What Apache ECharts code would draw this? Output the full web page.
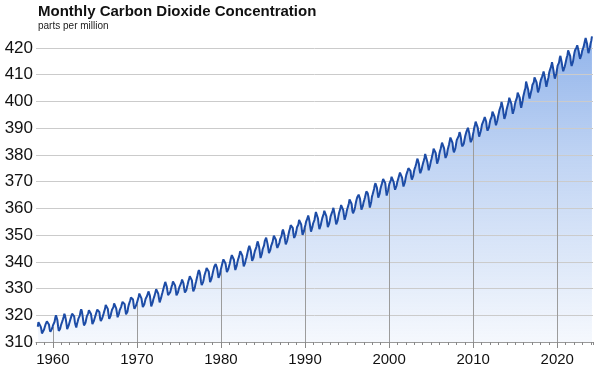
<!DOCTYPE html>
<html>
<head>
<meta charset="utf-8">
<script src="https://cdn.jsdelivr.net/npm/echarts@6/dist/echarts.min.js"></script>
<style>
  html, body { margin: 0; padding: 0; background: #fff; }
  #main { width: 600px; height: 373px; }
</style>
</head>
<body>
<div id="main"></div>
<script>
// monthly CO2 (ppm), first value is March 1958
var startYear = 1958, startMonth = 3;
var co2_1958_1969 = [
  315.70, 317.45, 317.51, 317.24, 315.86, 314.93, 313.20, 312.66, 313.33, 314.67,
  315.58, 316.49, 316.65, 317.72, 318.29, 318.15, 316.54, 314.80, 313.84, 313.33, 314.81, 315.58,
  316.43, 316.98, 317.58, 319.03, 320.04, 319.59, 318.18, 315.90, 314.17, 313.83, 315.00, 316.19,
  316.90, 317.70, 318.54, 319.48, 320.58, 319.77, 318.57, 316.79, 314.80, 315.38, 316.10, 317.01,
  317.94, 318.55, 319.68, 320.57, 321.02, 320.62, 319.61, 317.40, 316.25, 315.42, 316.69, 317.70,
  318.74, 319.07, 319.86, 321.38, 322.25, 321.48, 319.74, 317.77, 316.21, 315.99, 317.07, 318.35,
  319.57, 320.01, 320.74, 321.84, 322.26, 321.89, 320.44, 318.70, 316.70, 316.79, 317.79, 318.71,
  319.44, 320.44, 320.89, 322.14, 322.17, 321.87, 321.21, 318.87, 317.82, 317.30, 318.87, 319.42,
  320.62, 321.59, 322.39, 323.87, 324.01, 323.75, 322.39, 320.37, 318.64, 318.10, 319.79, 321.08,
  322.07, 322.50, 323.04, 324.42, 325.00, 324.09, 322.54, 320.92, 319.25, 319.39, 320.73, 321.96,
  322.57, 323.15, 323.89, 325.02, 325.57, 325.36, 324.14, 322.11, 320.33, 320.25, 321.32, 322.89,
  324.00, 324.42, 325.63, 326.66, 327.38, 326.71, 325.88, 323.66, 322.38, 321.78, 322.85, 324.12
];
var co2_1970s = [
  325.06, 325.98, 326.93, 328.13, 328.08, 327.67, 326.34, 324.69, 323.10, 323.06, 324.01, 325.13,
  326.17, 326.68, 327.18, 327.78, 328.92, 328.57, 327.37, 325.43, 323.36, 323.56, 324.80, 326.01,
  326.77, 327.63, 327.75, 329.72, 330.07, 329.09, 328.04, 326.32, 324.84, 325.20, 326.50, 327.55,
  328.55, 329.56, 330.30, 331.50, 332.48, 332.07, 330.87, 329.31, 327.51, 327.18, 328.16, 328.64,
  329.35, 330.71, 331.48, 332.65, 333.09, 332.25, 331.18, 329.40, 327.44, 327.37, 328.46, 329.58,
  330.40, 331.09, 331.63, 332.46, 333.36, 333.45, 331.97, 329.95, 328.50, 328.34, 329.37, 330.58,
  331.59, 332.75, 333.52, 334.64, 334.77, 334.00, 333.06, 330.68, 328.95, 328.75, 330.15, 331.62,
  332.66, 333.13, 334.95, 336.13, 336.93, 336.17, 334.88, 332.56, 331.29, 331.27, 332.41, 333.60,
  334.95, 335.25, 336.66, 337.69, 338.03, 338.01, 336.41, 334.41, 332.37, 332.41, 333.75, 334.90,
  336.14, 336.69, 338.27, 338.96, 339.21, 339.26, 337.54, 335.75, 333.98, 334.19, 335.31, 336.81
];
var co2_1980s = [
  337.90, 338.34, 340.01, 340.93, 341.48, 341.33, 339.40, 337.70, 336.19, 336.15, 337.27, 338.32,
  339.29, 340.55, 341.61, 342.53, 343.03, 342.54, 340.78, 338.44, 336.95, 337.08, 338.58, 339.88,
  340.96, 341.73, 342.81, 343.97, 344.63, 343.79, 342.32, 340.09, 338.28, 338.29, 339.60, 340.90,
  341.68, 342.90, 343.33, 345.25, 346.03, 345.63, 344.19, 342.27, 340.35, 340.38, 341.59, 343.05,
  344.10, 344.79, 345.52, 346.84, 347.63, 346.98, 345.53, 343.55, 341.40, 341.67, 343.10, 344.70,
  345.21, 346.16, 347.74, 348.34, 349.06, 348.38, 346.72, 345.02, 343.27, 343.13, 344.49, 345.88,
  346.56, 347.28, 348.01, 349.77, 350.38, 349.93, 348.16, 346.08, 345.22, 344.51, 345.93, 347.21,
  348.52, 348.73, 349.73, 351.31, 352.09, 351.53, 350.11, 348.08, 346.52, 346.59, 347.96, 349.16,
  350.39, 351.64, 352.41, 353.69, 354.21, 353.72, 352.69, 350.40, 348.92, 349.13, 350.20, 351.41,
  352.91, 353.27, 353.96, 355.64, 355.86, 355.37, 353.99, 351.81, 350.05, 350.25, 351.49, 352.85
];
var co2_1990s = [
  353.80, 355.04, 355.73, 356.32, 357.32, 356.34, 354.84, 353.01, 351.31, 351.62, 353.07, 354.33,
  354.84, 355.73, 357.23, 358.66, 359.13, 358.13, 356.19, 353.85, 352.25, 352.35, 353.81, 355.12,
  356.25, 357.11, 357.86, 359.09, 359.59, 359.33, 357.01, 354.94, 352.96, 353.32, 354.32, 355.57,
  357.00, 357.31, 358.47, 359.27, 360.19, 359.52, 357.33, 355.64, 354.03, 354.12, 355.41, 356.91,
  358.24, 358.92, 359.99, 361.23, 361.65, 360.81, 359.38, 357.46, 355.73, 356.08, 357.53, 358.98,
  359.92, 360.86, 361.83, 363.30, 363.69, 363.19, 361.64, 359.12, 358.17, 357.99, 359.45, 360.68,
  362.07, 363.24, 364.17, 364.57, 365.13, 364.92, 363.55, 361.38, 359.54, 359.58, 360.89, 362.24,
  363.09, 364.03, 364.51, 366.35, 366.64, 365.59, 364.31, 362.25, 360.29, 360.82, 362.49, 364.38,
  365.26, 365.98, 367.24, 368.66, 369.42, 368.99, 367.82, 365.95, 364.02, 364.40, 365.52, 367.13,
  368.18, 369.07, 369.68, 370.99, 370.96, 370.30, 369.45, 366.90, 364.81, 365.37, 366.72, 368.10
];
var co2_2000s = [
  369.29, 369.55, 370.60, 371.82, 371.58, 371.70, 369.86, 368.13, 367.00, 367.03, 368.37, 369.67,
  370.59, 371.51, 372.43, 373.37, 373.85, 373.21, 371.51, 369.61, 368.18, 368.45, 369.76, 371.24,
  372.53, 373.20, 374.12, 375.02, 375.76, 375.52, 374.01, 371.85, 370.75, 370.55, 372.25, 373.79,
  374.88, 375.64, 376.45, 377.73, 378.60, 378.28, 376.70, 374.38, 373.17, 373.14, 374.66, 375.99,
  377.00, 377.87, 378.88, 380.35, 380.62, 379.69, 377.47, 376.01, 374.25, 374.46, 376.16, 377.51,
  378.46, 379.73, 380.77, 382.29, 382.45, 382.21, 380.74, 378.74, 376.70, 377.00, 378.35, 380.11,
  381.38, 382.19, 382.67, 384.61, 385.03, 384.05, 382.46, 380.41, 378.85, 379.13, 380.15, 381.82,
  382.89, 383.90, 384.58, 386.50, 386.56, 386.10, 384.50, 381.99, 380.96, 381.12, 382.45, 383.95,
  385.52, 385.82, 386.03, 387.21, 388.54, 387.76, 386.36, 384.09, 383.18, 382.99, 384.19, 385.56,
  386.94, 387.48, 388.82, 389.55, 390.14, 389.48, 388.03, 386.11, 384.74, 384.43, 386.02, 387.42
];
var co2_2010s = [
  388.71, 390.20, 391.17, 392.46, 393.00, 392.15, 390.20, 388.35, 386.85, 387.24, 388.67, 389.79,
  391.33, 391.86, 392.60, 393.25, 394.19, 393.74, 392.51, 390.13, 389.08, 389.00, 390.28, 391.86,
  393.12, 393.86, 394.40, 396.18, 396.74, 395.71, 394.36, 392.39, 391.11, 391.05, 392.98, 394.34,
  395.55, 396.80, 397.43, 398.41, 399.78, 398.60, 397.32, 395.20, 393.45, 393.70, 395.16, 396.84,
  397.85, 398.01, 399.77, 401.38, 401.78, 401.25, 399.10, 397.03, 395.38, 396.03, 397.28, 398.91,
  399.98, 400.28, 401.54, 403.28, 403.96, 402.80, 401.31, 398.93, 397.63, 398.29, 400.16, 401.85,
  402.56, 404.12, 404.87, 407.45, 407.72, 406.83, 404.41, 402.27, 401.05, 401.59, 403.55, 404.45,
  406.17, 406.46, 407.22, 409.04, 409.69, 408.88, 407.12, 405.13, 403.37, 403.63, 405.12, 406.81,
  407.96, 408.32, 409.41, 410.24, 411.24, 410.79, 408.71, 406.99, 405.51, 406.00, 408.02, 409.07,
  410.83, 411.75, 411.97, 413.32, 414.66, 413.92, 411.77, 409.95, 408.54, 408.53, 410.27, 411.76
];
var co2_2020s = [
  413.40, 414.11, 414.51, 416.21, 417.07, 416.39, 414.38, 412.55, 411.29, 411.28, 412.89, 414.02,
  415.23, 416.45, 417.31, 419.10, 419.13, 418.94, 416.96, 414.47, 413.30, 413.93, 415.01, 416.71,
  418.19, 419.28, 418.81, 420.23, 420.99, 420.99, 418.90, 417.19, 415.95, 415.78, 417.51, 418.95,
  419.47, 420.33, 420.51, 422.73, 423.78, 423.39, 421.62, 419.56, 418.06, 418.41, 420.11, 421.65,
  422.62, 424.35
];
var decades = [1960, 1970, 1980, 1990, 2000, 2010, 2020];
var yTicks = [310, 320, 330, 340, 350, 360, 370, 380, 390, 400, 410, 420];

var values = [].concat(co2_1958_1969, co2_1970s, co2_1980s, co2_1990s, co2_2000s, co2_2010s, co2_2020s);
var points = values.map(function (v, i) {
  var m = startMonth - 1 + i;
  return [startYear + Math.floor(m / 12) + ((m % 12) + 0.5) / 12, v];
});

// decade grid lines only run up to the curve
function valueAt(x) {
  var best = points[0];
  points.forEach(function (p) { if (Math.abs(p[0] - x) < Math.abs(best[0] - x)) best = p; });
  return best[1];
}
var decadeLines = decades.map(function (d) {
  return [{ coord: [d, yTicks[0]] }, { coord: [d, valueAt(d)] }];
});

var font = '"Liberation Sans", Arial, Helvetica, sans-serif';
var myChart = echarts.init(document.getElementById('main'));
var option = {
  animation: false,
  title: [{
    text: 'Monthly Carbon Dioxide Concentration',
    left: 38, top: 4, padding: 0,
    textStyle: { fontFamily: font, fontSize: 15, fontWeight: 'bold', color: '#111' }
  }, {
    text: 'parts per million',
    left: 38, top: 21, padding: 0,
    textStyle: { fontFamily: font, fontSize: 10, fontWeight: 'normal', color: '#222' }
  }],
  grid: { left: 36, right: 7, top: 48, bottom: 31, containLabel: false },
  xAxis: [{
    type: 'value', position: 'bottom', min: 1958, max: 2024.25, interval: 1, z: 4,
    axisLine: { lineStyle: { color: '#999', width: 1 } },
    axisTick: { length: 3, lineStyle: { color: '#888' } },
    axisLabel: { show: false },
    splitLine: { show: false }
  }, {
    type: 'value', position: 'bottom', offset: 0, min: 1958, max: 2024.25, z: 4,
    axisLine: { show: false },
    axisTick: { length: 6, customValues: decades, lineStyle: { color: '#888' } },
    axisLabel: { customValues: decades, margin: 10, fontFamily: font, fontSize: 15, color: '#111',
      formatter: function (v) { return String(v); } },
    splitLine: { show: false }
  }],
  yAxis: {
    type: 'value', min: 310, max: 420, interval: 10, z: 4,
    axisLine: { show: false }, axisTick: { show: false },
    axisLabel: { margin: 3, fontFamily: font, fontSize: 17, color: '#111' },
    splitLine: { lineStyle: { color: '#cbcbcb', width: 1 } }
  },
  series: [{
    type: 'line', data: points, showSymbol: false, clip: false, z: 1,
    lineStyle: { width: 0 },
    areaStyle: {
      origin: 'start',
      color: new echarts.graphic.LinearGradient(0, 0, 0, 1, [
        { offset: 0, color: 'rgba(55,118,218,0.78)' },
        { offset: 0.4, color: 'rgba(55,118,218,0.45)' },
        { offset: 1, color: 'rgba(55,118,218,0.07)' }
      ])
    },
    markLine: {
      silent: true, symbol: 'none', z: 5, animation: false,
      label: { show: false },
      lineStyle: { color: '#9c9c9c', width: 1, type: 'solid' },
      data: decadeLines
    }
  }, {
    type: 'line', data: points, showSymbol: false, clip: false, z: 10,
    lineStyle: { color: '#1d4ca6', width: 2 }
  }]
};
myChart.setOption(option);
</script>
</body>
</html>
